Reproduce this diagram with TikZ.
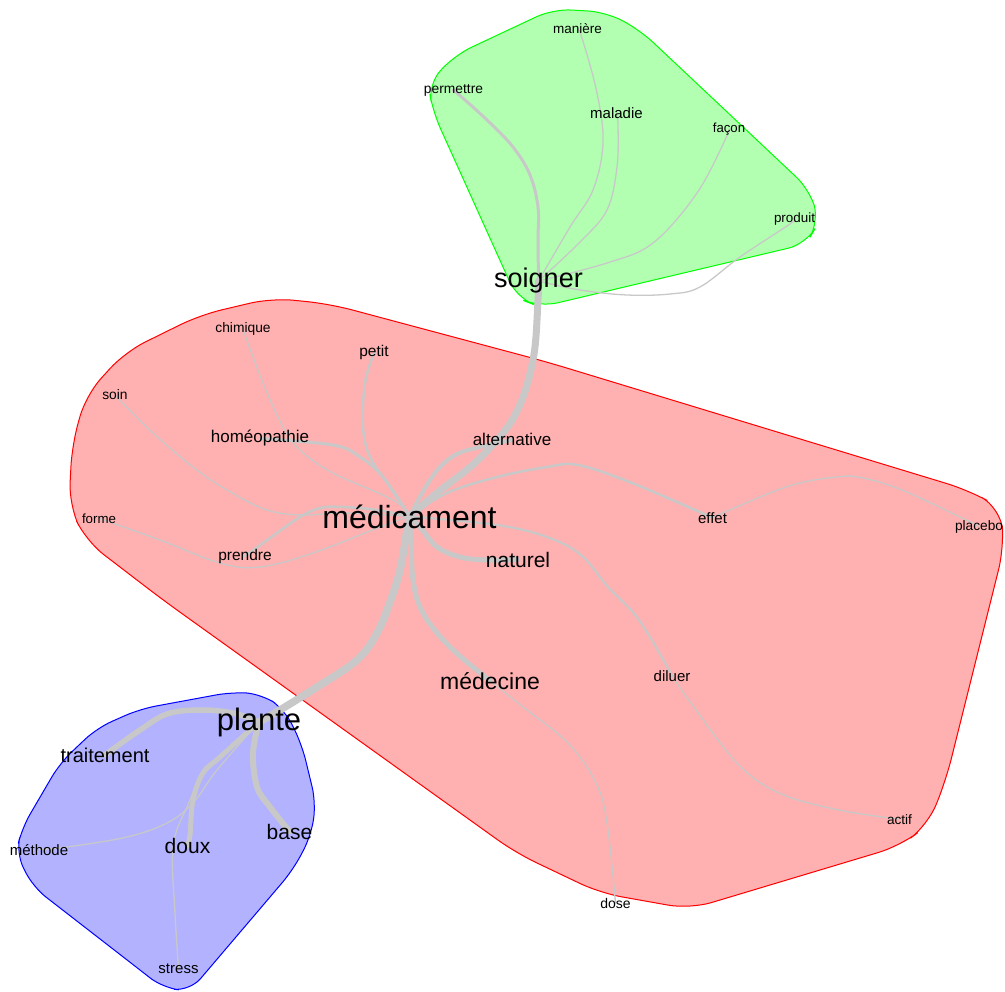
\documentclass[tikz,border=0pt]{standalone}
\usepackage{fontspec}
\setmainfont{Liberation Sans}
\pgfdeclarelayer{hulls}
\pgfdeclarelayer{edges}
\pgfsetlayers{hulls,edges,main}
\definecolor{hullred}{RGB}{255,176,176}
\definecolor{hullgreen}{RGB}{178,255,178}
\definecolor{hullblue}{RGB}{178,178,255}
\definecolor{edgegray}{RGB}{200,200,200}
\tikzset{
  lbl/.style={font=\fontsize{#1}{#1}\selectfont, inner sep=0pt, text=black, anchor=base},
  lnk/.style={draw=edgegray, line width=#1, line cap=round, line join=round},
  hullline/.style={line width=1pt, rounded corners=#1},
}
\begin{document}
\begin{tikzpicture}[x=1pt,y=-1pt]
\useasboundingbox (0,0) rectangle (1005,992);

% ---------- labels ----------
\node[lbl=32] (med) at (409.5,528) {médicament};
\node[lbl=27] (soi) at (538.5,288) {soigner};
\node[lbl=31] (pla) at (259,730) {plante};
\node[lbl=13.5] (man) at (577.5,34) {manière};
\node[lbl=13.8] (per) at (453.5,94) {permettre};
\node[lbl=15] (mal) at (616.5,119) {maladie};
\node[lbl=13.2] (fac) at (729,133) {façon};
\node[lbl=13.4] (pro) at (794.5,223) {produit};
\node[lbl=13.8] (chi) at (243,333) {chimique};
\node[lbl=15.5] (pet) at (374,357) {petit};
\node[lbl=13.8] (soin) at (115,400) {soin};
\node[lbl=17] (hom) at (260,443) {homéopathie};
\node[lbl=17] (alt) at (512,446) {alternative};
\node[lbl=13.3] (for) at (99,523) {forme};
\node[lbl=15.5] (pre) at (245,560) {prendre};
\node[lbl=21] (nat) at (518,567) {naturel};
\node[lbl=15] (eff) at (712.5,523) {effet};
\node[lbl=13.7] (plc) at (979,530) {placebo};
\node[lbl=23] (mdc) at (490,689) {médecine};
\node[lbl=15] (dil) at (672,681) {diluer};
\node[lbl=13.6] (act) at (899.5,824) {actif};
\node[lbl=14] (dos) at (615.5,908) {dose};
\node[lbl=20] (tra) at (105,762) {traitement};
\node[lbl=21] (dou) at (187.5,853) {doux};
\node[lbl=21] (bas) at (289.5,839) {base};
\node[lbl=15] (met) at (39,855) {méthode};
\node[lbl=15] (str) at (178.5,973) {stress};

% ---------- hulls ----------
\begin{pgfonlayer}{hulls}
\filldraw[fill=hullred, draw=red, hullline=22pt]
 (272,298) -- (330,304) -- (547,362) -- (968,490) -- (1001,508) -- (1004,548)
 -- (946,780) -- (928,825) -- (900,846) -- (690,909) -- (600,893) -- (516,853)
 -- (163,600) -- (86,541) -- (69,505) -- (72,445) -- (86,395) -- (125,352)
 -- (200,315) -- cycle;
\filldraw[fill=hullgreen, draw=green, hullline=18pt]
 (428,84) -- (455,55) -- (553,9) -- (606,12) -- (640,30) -- (810,190) -- (819,222)
 -- (806,244) -- (540,307) -- (517,298) -- (433,112) -- cycle;
\filldraw[fill=hullblue, draw=blue, hullline=16pt]
 (232,692) -- (262,694) -- (285,710) -- (302,745) -- (316,803) -- (311,836)
 -- (293,870) -- (190,991) -- (163,988) -- (140,970) -- (33,887) -- (16,853)
 -- (22,828) -- (60,763) -- (97,728) -- (140,709) -- cycle;
\end{pgfonlayer}

% ---------- edges ----------
\begin{pgfonlayer}{edges}
% soigner group
\draw[lnk=7] plot[smooth, tension=0.6] coordinates {(soi.center) (538,300) (533,360) (515,415) (480,458) (437,493) (med.center)};
\draw[lnk=3] plot[smooth, tension=0.6] coordinates {(per.center) (457,93) (487,120) (513,147) (530,175) (538,207) (538,240) (soi.center)};
\draw[lnk=1.3] plot[smooth, tension=0.6] coordinates {(man.center) (582,38) (597,93) (603,143) (593,190) (570,227) (soi.center)};
\draw[lnk=1.3] plot[smooth, tension=0.6] coordinates {(mal.center) (618,125) (617,167) (607,210) (580,242) (soi.center)};
\draw[lnk=1.3] plot[smooth, tension=0.6] coordinates {(fac.center) (727,136) (697,193) (653,243) (607,263) (soi.center)};
\draw[lnk=1.3] plot[smooth, tension=0.6] coordinates {(pro.center) (790,224) (740,257) (700,287) (670,294) (627,295) (580,290) (soi.center)};
% medicament group
\draw[lnk=7.5] plot[smooth, tension=0.6] coordinates {(med.center) (407,530) (400,570) (390,602) (377,633) (357,660) (317,687) (280,710) (pla.center)};
\draw[lnk=5] plot[smooth, tension=0.6] coordinates {(med.center) (411,535) (413,580) (423,613) (450,647) (mdc.center)};
\draw[lnk=5] plot[smooth, tension=0.6] coordinates {(med.center) (420,527) (437,547) (460,557) (487,560) (nat.center)};
\draw[lnk=4] plot[smooth, tension=0.6] coordinates {(med.center) (425,488) (440,467) (457,454) (480,447) (alt.center)};
\draw[lnk=3] plot[smooth, tension=0.6] coordinates {(med.center) (383,477) (360,457) (333,445) (hom.center)};
\draw[lnk=2.5] plot[smooth, tension=0.6] coordinates {(med.center) (447,493) (497,477) (547,467) (578,465) (632,483) (eff.center)};
\draw[lnk=2.5] plot[smooth, tension=0.6] coordinates {(med.center) (390,487) (370,457) (363,427) (365,383) (pet.center)};
\draw[lnk=2.5] plot[smooth, tension=0.6] coordinates {(med.center) (377,510) (343,507) (320,508) (300,517) (277,533) (pre.center)};
\draw[lnk=2.2] plot[smooth, tension=0.6] coordinates {(med.center) (497,525) (547,537) (581,555) (608,587) (639,620) (dil.center)};
\draw[lnk=1.3] plot[smooth, tension=0.6] coordinates {(med.center) (393,500) (333,473) (300,450) (283,427) (263,383) (chi.center)};
\draw[lnk=1.3] plot[smooth, tension=0.6] coordinates {(med.center) (343,513) (303,515) (267,510) (227,490) (193,467) (153,433) (soin.center)};
\draw[lnk=1.3] plot[smooth, tension=0.6] coordinates {(med.center) (380,527) (313,553) (260,567) (220,563) (160,540) (for.center)};
\draw[lnk=1.3] plot[smooth, tension=0.6] coordinates {(eff.center) (786,487) (836,477) (863,478) (902,490) (960,517) (plc.center)};
\draw[lnk=1.3] plot[smooth, tension=0.6] coordinates {(dil.center) (691,703) (737,763) (779,793) (839,810) (act.center)};
\draw[lnk=1.3] plot[smooth, tension=0.6] coordinates {(mdc.center) (523,707) (568,743) (596,783) (607,823) (dos.center)};
% plante group
\draw[lnk=5.5] plot[smooth, tension=0.6] coordinates {(pla.center) (233,713) (200,710) (167,714) (140,730) (tra.center)};
\draw[lnk=6] plot[smooth, tension=0.6] coordinates {(pla.center) (253,753) (257,787) (270,807) (bas.center)};
\draw[lnk=5] plot[smooth, tension=0.6] coordinates {(pla.center) (220,757) (203,773) (193,800) (190,835) (dou.center)};
\draw[lnk=1.3] plot[smooth, tension=0.6] coordinates {(pla.center) (217,770) (193,803) (167,823) (127,837) (67,847) (met.center)};
\draw[lnk=1.3] plot[smooth, tension=0.6] coordinates {(pla.center) (207,770) (187,807) (173,847) (175,913) (str.center)};
\end{pgfonlayer}
\end{tikzpicture}
\end{document}
